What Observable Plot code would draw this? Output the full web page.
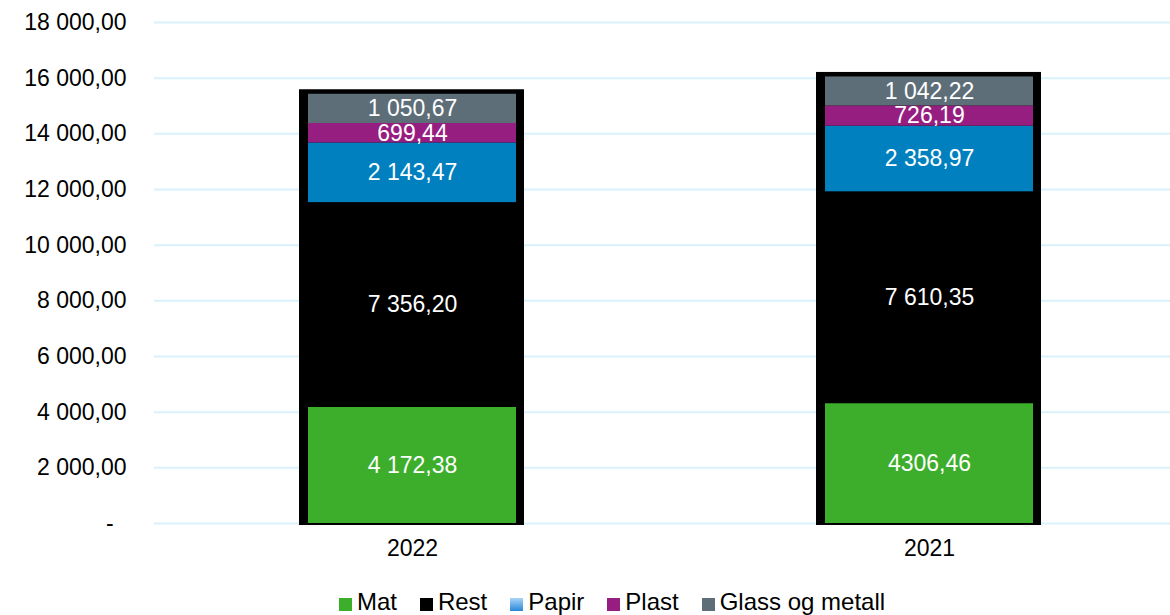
<!DOCTYPE html>
<html>
<head>
<meta charset="utf-8">
<script src="https://cdn.jsdelivr.net/npm/d3@7"></script>
<script src="https://cdn.jsdelivr.net/npm/@observablehq/plot@0.6"></script>
<style>
  html, body { margin: 0; padding: 0; background: #fff; overflow: hidden; width: 1170px; height: 615px; }
  body { font-family: "Liberation Sans", Arial, sans-serif; }
  #chart { width: 1170px; height: 580px; overflow: hidden; }
  #chart svg { max-width: none !important; }
  #legend { display: flex; justify-content: center; align-items: center; margin-top: 10px; height: 24px; line-height: 24px; padding-left: 54px; font-size: 24px; color: #000; white-space: nowrap; }
  .item { display: flex; align-items: center; margin: 0 11.5px; }
  .sw { width: 13px; height: 13px; margin-right: 5px; display: inline-block; position: relative; top: 2px; }
</style>
</head>
<body>
<div id="chart"></div>
<div id="legend"></div>
<script>
const years = ["2022", "2021"];
const series = ["Mat", "Rest", "Papir", "Plast", "Glass og metall"];
const colors = ["#3DAE2B", "#000000", "#0080BE", "#961E80", "#5E6E78"];
const mat = [4172.38, 4306.46];
const rest = [7356.20, 7610.35];
const papir = [2143.47, 2358.97];
const plast = [699.44, 726.19];
const glass = [1050.67, 1042.22];
const matLabels = ["4 172,38", "4306,46"];
const restLabels = ["7 356,20", "7 610,35"];
const papirLabels = ["2 143,47", "2 358,97"];
const plastLabels = ["699,44", "726,19"];
const glassLabels = ["1 050,67", "1 042,22"];
const yTicks = [0, 2000, 4000, 6000, 8000, 10000, 12000, 14000, 16000, 18000];

const values = [mat, rest, papir, plast, glass];
const labels = [matLabels, restLabels, papirLabels, plastLabels, glassLabels];
const rows = years.flatMap((yr, i) => series.map((s, j) => ({year: yr, series: s, value: values[j][i], label: labels[j][i]})));
const totals = years.map((yr, i) => ({year: yr, total: d3.sum(values, v => v[i])}));

const nf = d3.formatLocale({decimal: ",", thousands: "\u00a0", grouping: [3]}).format(",.2f");
const tickFmt = d => d === 0 ? "-\u2007" : nf(d);

const chart = Plot.plot({
  width: 1187,
  height: 580,
  marginLeft: 154,
  marginRight: 0,
  marginTop: 22,
  marginBottom: 57,
  style: {fontFamily: "'Liberation Sans', Arial, sans-serif", fontSize: "23px", color: "#000", background: "#fff", overflow: "visible", maxWidth: "none"},
  x: {domain: years, paddingInner: 0.598, paddingOuter: 0.298, label: null},
  y: {domain: [0, 18000], label: null},
  color: {domain: series, range: colors},
  marks: [
    Plot.ruleY(yTicks, {stroke: "#d9f1fb", strokeWidth: 2}),
    Plot.barY(totals, {x: "year", y: "total", fill: "#000", insetLeft: -9, insetRight: -8, insetTop: -4.5, insetBottom: -2}),
    Plot.barY(rows, {x: "year", y: "value", fill: "series"}),
    Plot.text(rows, Plot.stackY({x: "year", y: "value", text: "label", fill: "#fff", fontSize: 23})),
    Plot.axisY(yTicks, {tickFormat: tickFmt, tickSize: 0, tickPadding: 28, fontSize: 23, label: null}),
    Plot.axisX({tickSize: 0, tickPadding: 16, fontSize: 23, label: null})
  ]
});
document.getElementById("chart").appendChild(chart);

const legend = document.getElementById("legend");
series.forEach((s, j) => {
  const item = document.createElement("span");
  item.className = "item";
  const sw = document.createElement("span");
  sw.className = "sw";
  sw.style.background = s === "Papir" ? "linear-gradient(#a9d5f7, #2a86d8)" : colors[j];
  const t = document.createElement("span");
  t.textContent = s;
  item.appendChild(sw);
  item.appendChild(t);
  legend.appendChild(item);
});
</script>
</body>
</html>
